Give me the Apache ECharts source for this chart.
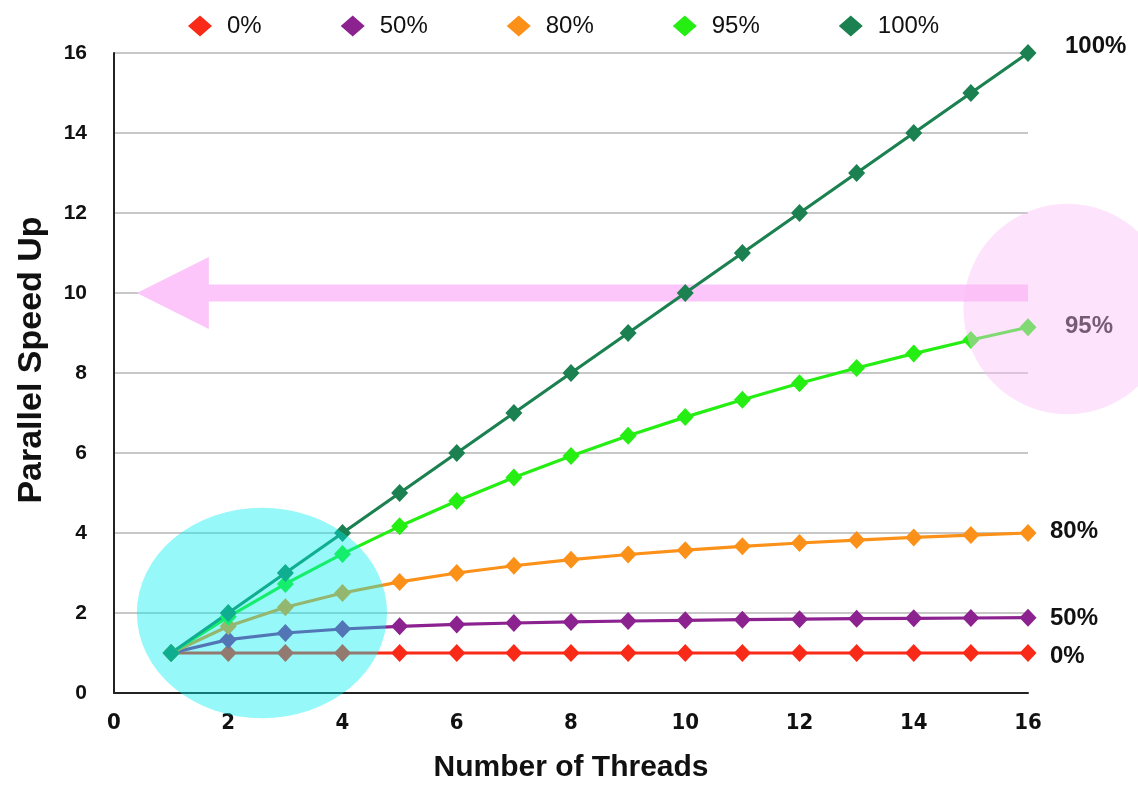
<!DOCTYPE html>
<html>
<head>
<meta charset="utf-8">
<script src="https://cdn.jsdelivr.net/npm/echarts@6/dist/echarts.min.js"></script>
<style>html,body{margin:0;padding:0;background:#fff}#c{width:1138px;height:785px}</style>
</head>
<body>
<div id="c"></div>
<script>
const threads = [1,2,3,4,5,6,7,8,9,10,11,12,13,14,15,16];
const seriesNames = ['0%','50%','80%','95%','100%'];
const p0 = [1,1,1,1,1,1,1,1,1,1,1,1,1,1,1,1];
const p50 = [1,1.333,1.5,1.6,1.667,1.714,1.75,1.778,1.8,1.818,1.833,1.846,1.857,1.867,1.875,1.882];
const p80 = [1,1.667,2.143,2.5,2.778,3.0,3.182,3.333,3.462,3.571,3.667,3.75,3.824,3.889,3.947,4.0];
const p95 = [1,1.905,2.727,3.478,4.167,4.8,5.385,5.926,6.429,6.897,7.333,7.742,8.125,8.485,8.824,9.143];
const p100 = [1,2,3,4,5,6,7,8,9,10,11,12,13,14,15,16];
const yTicks = [0,2,4,6,8,10,12,14,16];
const xTicks = [0,2,4,6,8,10,12,14,16];

const colors = ['#fa2a18','#8c2190','#fb9119','#25ee12','#1b8150'];
const values = [p0,p50,p80,p95,p100];
const labelOffsets = [[14,3],[14,1],[14,-2],[29,-1],[29,-7]];

const chart = echarts.init(document.getElementById('c'));
const font = '"Liberation Sans", Arial, sans-serif';
const narrow = '"Liberation Sans Narrow", "DejaVu Sans Condensed", "Liberation Sans", sans-serif';

const series = seriesNames.map((n,i)=>({
  name:n, type:'line', z:2,
  data: threads.map((t,k)=>[t, values[i][k]]),
  symbol:'diamond', symbolSize:[17,18],
  lineStyle:{color:colors[i], width:3.2},
  itemStyle:{color:colors[i]},
  endLabel:{show:true, formatter:'{a}', color:'#111', fontFamily:font, fontWeight:'bold', fontSize:24, offset:labelOffsets[i]}
}));

chart.setOption({
  animation:false,
  color:colors,
  textStyle:{fontFamily:font},
  legend:{
    top:9, left:183, icon:'diamond', itemWidth:24, itemHeight:21, itemGap:79,
    textStyle:{fontSize:24, color:'#111', fontFamily:font, padding:[0,0,0,10]},
    data:seriesNames
  },
  grid:{left:114, right:110, top:53, bottom:92, containLabel:false, outerBoundsMode:'none'},
  xAxis:{
    type:'value', min:0, max:16, interval:2,
    name:'Number of Threads', nameLocation:'middle', nameGap:60,
    nameTextStyle:{fontSize:30, fontWeight:'bold', color:'#111', fontFamily:font},
    axisLine:{show:true, lineStyle:{color:'#222', width:2}},
    axisTick:{show:false},
    splitLine:{show:false},
    axisLabel:{fontSize:22, fontWeight:'bold', color:'#111', margin:19, fontFamily:narrow,
      formatter:v=>xTicks.includes(v)?String(v):''}
  },
  yAxis:{
    type:'value', min:0, max:16, interval:2,
    name:'Parallel Speed Up', nameLocation:'middle', nameGap:65, nameRotate:90,
    nameTextStyle:{fontSize:34, fontWeight:'bold', color:'#111', fontFamily:font, padding:[0,0,0,26]},
    axisLine:{show:true, lineStyle:{color:'#222', width:2}},
    axisTick:{show:false},
    splitLine:{show:true, lineStyle:{color:'#b5b5b5', width:1.5}},
    axisLabel:{fontSize:21, fontWeight:'bold', color:'#111', margin:27, fontFamily:font,
      formatter:v=>yTicks.includes(v)?String(v):''}
  },
  series:series
});

// annotations positioned in data coordinates
const px = (x,y)=>chart.convertToPixel({xAxisIndex:0,yAxisIndex:0},[x,y]);
function ellipse(cx,cy,rx,ry,fill,op){
  const c = px(cx,cy), e = px(cx+rx,cy+ry);
  const r = Math.abs(e[0]-c[0]), r2 = Math.abs(e[1]-c[1]);
  return {type:'circle', x:c[0], y:c[1], scaleY:r2/r, shape:{cx:0,cy:0,r:r},
    style:{fill:fill, opacity:op}, z:100, silent:true};
}
const arrowPts = [[0.4,10],[1.66,10.9],[1.66,10.21],[16,10.21],[16,9.79],[1.66,9.79],[1.66,9.1]].map(p=>px(p[0],p[1]));
chart.setOption({
  graphic:[
    {type:'polygon', shape:{points:arrowPts}, style:{fill:'#fdc6fa'}, z:1, silent:true},
    ellipse(2.59,2.0,2.19,2.63,'rgb(0,239,239)',0.41),
    ellipse(16.69,9.6,1.82,2.63,'rgb(250,190,245)',0.43)
  ]
});
</script>
</body>
</html>
